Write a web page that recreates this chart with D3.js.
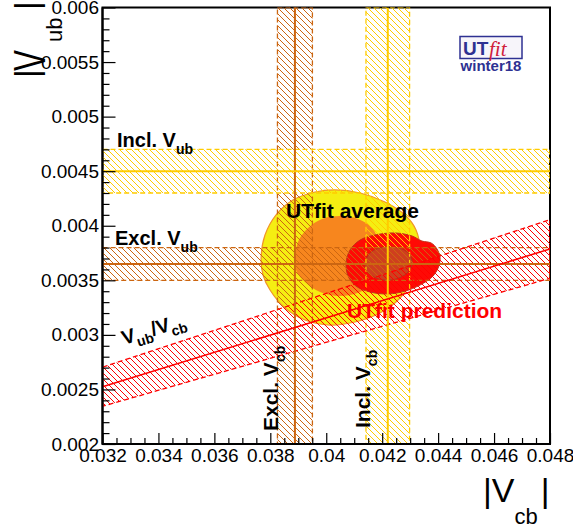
<!DOCTYPE html>
<html><head><meta charset="utf-8">
<script src="https://cdn.jsdelivr.net/npm/d3@7"></script>
<style>
body{margin:0;background:#fff}
svg{display:block}
text{font-family:"Liberation Sans",Arial,Helvetica,sans-serif}
</style>
</head><body>
<svg id="chart" width="573" height="530"></svg>
<script>
// ---------- data ----------
const xTicks = [0.032,0.034,0.036,0.038,0.040,0.042,0.044,0.046,0.048];
const xTickLabels = ["0.032","0.034","0.036","0.038","0.04","0.042","0.044","0.046","0.048"];
const yTicks = [0.002,0.0025,0.003,0.0035,0.004,0.0045,0.005,0.0055,0.006];
const yTickLabels = ["0.002","0.0025","0.003","0.0035","0.004","0.0045","0.005","0.0055","0.006"];

// |Vcb| measurements (vertical bands): Excl., Incl.
const vcbNames = ["Excl.","Incl."];
const vcbCenters = [0.03888, 0.04220];
const vcbErrors = [0.000625, 0.00078];
// |Vub| measurements (horizontal bands): Incl., Excl.
const vubNames = ["Incl.","Excl."];
const vubCenters = [0.00450, 0.00365];
const vubErrors = [0.00020, 0.00015];
// Vub/Vcb ratio
const ratioCenter = 0.0789;
const ratioError = 0.0056;

// UTfit average contours [Vcb, Vub]
const avg95 = [[0.03767,0.003704],[0.03781,0.003915],[0.03820,0.004098],[0.03881,0.004236],[0.03960,0.004309],[0.04031,0.004328],[0.04121,0.004300],[0.04210,0.004218],[0.04282,0.004098],[0.04321,0.003961],[0.04335,0.003778],[0.04317,0.003549],[0.04264,0.003338],[0.04192,0.003200],[0.04103,0.003118],[0.04013,0.003090],[0.03924,0.003136],[0.03853,0.003246],[0.03799,0.003411],[0.03774,0.003549]];
const avg68 = [[0.03888,0.003668],[0.03899,0.003851],[0.03935,0.003979],[0.03985,0.004062],[0.04049,0.004089],[0.04114,0.004062],[0.04164,0.003979],[0.04192,0.003824],[0.04199,0.003640],[0.04174,0.003485],[0.04121,0.003393],[0.04049,0.003356],[0.03978,0.003393],[0.03924,0.003485],[0.03895,0.003576]];
// UTfit prediction contours
const pred95 = [[0.04071,0.003659],[0.04085,0.003778],[0.04121,0.003869],[0.04174,0.003915],[0.04246,0.003934],[0.04307,0.003906],[0.04342,0.003860],[0.04375,0.003842],[0.04396,0.003787],[0.04407,0.003704],[0.04400,0.003613],[0.04378,0.003530],[0.04335,0.003456],[0.04282,0.003401],[0.04221,0.003375],[0.04156,0.003393],[0.04106,0.003448],[0.04078,0.003540]];
const pred68 = [[0.04139,0.003650],[0.04153,0.003741],[0.04185,0.003792],[0.04228,0.003805],[0.04271,0.003787],[0.04299,0.003732],[0.04307,0.003650],[0.04289,0.003567],[0.04249,0.003512],[0.04203,0.003503],[0.04164,0.003540],[0.04142,0.003594]];

// ---------- drawing ----------
const svg = d3.select("#chart");
const L=102.5, R=550, T=7.5, B=444;
const x = d3.scaleLinear().domain([0.032,0.048]).range([L,R]);
const y = d3.scaleLinear().domain([0.002,0.006]).range([B,T]);

const COL_YEL = "#FFCC00", COL_EXC = "#CC6611", COL_RED = "#FF0000";

const defs = svg.append("defs");
defs.append("clipPath").attr("id","plotclip").append("rect")
  .attr("x",L).attr("y",T).attr("width",R-L).attr("height",B-T);
function hatch(id,color){
  const p = defs.append("pattern").attr("id",id).attr("patternUnits","userSpaceOnUse")
    .attr("width",6).attr("height",6);
  p.append("path").attr("d","M-1,-1L7,7M5,-1L7,1M-1,5L1,7")
    .attr("stroke",color).attr("stroke-width",1).attr("fill","none");
}
hatch("hY",COL_YEL); hatch("hE",COL_EXC); hatch("hR",COL_RED);

// frame (under bands)
svg.append("rect").attr("x",L).attr("y",T).attr("width",R-L).attr("height",B-T)
  .attr("fill","none").attr("stroke","#000").attr("stroke-width",2);

const plot = svg.append("g").attr("clip-path","url(#plotclip)");

// contours
const cline = d3.line().x(d=>x(d[0])).y(d=>y(d[1])).curve(d3.curveCatmullRomClosed.alpha(0.5));
plot.append("path").attr("d",cline(avg95)).attr("fill","#F5EE12").attr("stroke","#F0962A").attr("stroke-width",1.2);
plot.append("path").attr("d",cline(avg68)).attr("fill","#F7861E");
plot.append("path").attr("d",cline(pred95)).attr("fill","#FF0A05").attr("stroke","#C0301A").attr("stroke-width",1);
plot.append("path").attr("d",cline(pred68)).attr("fill","#CF3F1E").attr("stroke","#B0381A").attr("stroke-width",1);

// vertical bands (Vcb)
const vColors = [COL_EXC, COL_YEL], vFill = ["url(#hE)","url(#hY)"];
vcbCenters.forEach((c,i)=>{
  const x0=x(c-vcbErrors[i]), x1=x(c+vcbErrors[i]);
  plot.append("rect").attr("x",x0).attr("y",T).attr("width",x1-x0).attr("height",B-T)
    .attr("fill",vFill[i]).attr("stroke",vColors[i]).attr("stroke-width",1.3).attr("stroke-dasharray","5,3");
});
// horizontal bands (Vub)
const hColors = [COL_YEL, COL_EXC], hFill = ["url(#hY)","url(#hE)"];
vubCenters.forEach((c,i)=>{
  const y0=y(c+vubErrors[i]), y1=y(c-vubErrors[i]);
  plot.append("rect").attr("x",L).attr("y",y0).attr("width",R-L).attr("height",y1-y0)
    .attr("fill",hFill[i]).attr("stroke",hColors[i]).attr("stroke-width",1.3).attr("stroke-dasharray","5,3");
});
// ratio band
const xd = x.domain();
const rHi = ratioCenter+ratioError, rLo = ratioCenter-ratioError;
const ratioPoly = [[xd[0],rHi*xd[0]],[xd[1],rHi*xd[1]],[xd[1],rLo*xd[1]],[xd[0],rLo*xd[0]]];
plot.append("path").attr("d","M"+ratioPoly.map(d=>[x(d[0]),y(d[1])].join(",")).join("L")+"Z")
  .attr("fill","url(#hR)").attr("stroke",COL_RED).attr("stroke-width",1.3).attr("stroke-dasharray","5,3");

// center lines
vcbCenters.forEach((c,i)=>{
  plot.append("line").attr("x1",x(c)).attr("x2",x(c)).attr("y1",T).attr("y2",B)
    .attr("stroke",vColors[i]).attr("stroke-width",2);
});
vubCenters.forEach((c,i)=>{
  plot.append("line").attr("x1",L).attr("x2",R).attr("y1",y(c)).attr("y2",y(c))
    .attr("stroke",hColors[i]).attr("stroke-width",2);
});
plot.append("line").attr("x1",x(xd[0])).attr("y1",y(ratioCenter*xd[0]))
  .attr("x2",x(xd[1])).attr("y2",y(ratioCenter*xd[1])).attr("stroke",COL_RED).attr("stroke-width",1.6);

// axes
function minorVals(a,b,step){const v=[];for(let k=Math.round(a/step);k*step<=b+1e-12;k++)v.push(+(k*step).toFixed(6));return v;}
const xMinor = minorVals(0.032,0.048,0.0005).filter(v=>!xTicks.some(t=>Math.abs(t-v)<1e-9));
const yMinor = minorVals(0.002,0.006,0.0001).filter(v=>!yTicks.some(t=>Math.abs(t-v)<1e-9));

const gx = svg.append("g").attr("transform",`translate(0,${B})`)
  .call(d3.axisBottom(x).tickValues(xTicks).tickSize(-11).tickSizeOuter(0).tickPadding(5)
    .tickFormat((d,i)=>xTickLabels[i]));
svg.append("g").attr("transform",`translate(0,${B})`)
  .call(d3.axisBottom(x).tickValues(xMinor).tickSize(-6).tickSizeOuter(0).tickFormat(""))
  .select(".domain").remove();
const gy = svg.append("g").attr("transform",`translate(${L},0)`)
  .call(d3.axisLeft(y).tickValues(yTicks).tickSize(-13).tickSizeOuter(0).tickPadding(3.5)
    .tickFormat((d,i)=>yTickLabels[i]));
svg.append("g").attr("transform",`translate(${L},0)`)
  .call(d3.axisLeft(y).tickValues(yMinor).tickSize(-7).tickSizeOuter(0).tickFormat(""))
  .select(".domain").remove();
gx.select(".domain").remove(); gy.select(".domain").remove();
svg.selectAll(".tick line").attr("stroke","#000").attr("stroke-width",1.2);
svg.selectAll(".tick text").attr("font-size",19).attr("fill","#000")
  .style("font-family",'"Liberation Sans",Arial,Helvetica,sans-serif');
svg.append("line").attr("x1",L).attr("x2",L).attr("y1",T).attr("y2",B).attr("stroke","#000").attr("stroke-width",2);
svg.append("line").attr("x1",L).attr("x2",R).attr("y1",B).attr("y2",B).attr("stroke","#000").attr("stroke-width",2);

// axis titles
const xt = svg.append("text").attr("x",483).attr("y",502).attr("font-size",34).attr("fill","#000");
xt.append("tspan").text("|V");
xt.append("tspan").attr("font-size",22).attr("dy",22).text("cb");
xt.append("tspan").attr("dy",-22).attr("dx",3).text("|");

const yt = svg.append("g").attr("transform","translate(45,78) rotate(-90)");
yt.append("text").attr("x",0).attr("y",-7).attr("font-size",34).text("|");
yt.append("text").attr("x",7).attr("y",0).attr("font-size",44)
  .attr("textLength",21).attr("lengthAdjust","spacingAndGlyphs").text("V");
yt.append("text").attr("x",36).attr("y",17).attr("font-size",22).text("ub");
yt.append("text").attr("x",68).attr("y",-7).attr("font-size",34).text("|");

// labels
function subLabel(g, main, sub, fs, sfs, dy, color){
  const t = g.append("text").attr("font-size",fs).attr("font-weight","bold").attr("fill",color||"#000");
  t.append("tspan").text(main);
  t.append("tspan").attr("font-size",sfs).attr("dy",dy).text(sub);
  return t;
}
subLabel(svg,"Incl. V","ub",20,14,7).attr("x",117).attr("y",147);
subLabel(svg,"Excl. V","ub",20,14,7).attr("x",115).attr("y",245);
svg.append("text").attr("x",286).attr("y",218).attr("font-size",21).attr("font-weight","bold").text("UTfit average");
svg.append("text").attr("x",347).attr("y",318).attr("font-size",21).attr("font-weight","bold").attr("fill",COL_RED).text("UTfit prediction");

const rl = svg.append("text").attr("transform","translate(124,345) rotate(-17)")
  .attr("font-size",20).attr("font-weight","bold");
rl.append("tspan").text("V");
rl.append("tspan").attr("font-size",14).attr("dy",6).text("ub");
rl.append("tspan").attr("dy",-6).text("/V");
rl.append("tspan").attr("font-size",14).attr("dy",6).text("cb");

subLabel(svg,"Excl. V","cb",21,14,7).attr("transform","translate(278,431) rotate(-90)");
subLabel(svg,"Incl. V","cb",21,14,7).attr("transform","translate(370,428) rotate(-90)");

// logo
const logo = svg.append("g");
logo.append("rect").attr("x",460).attr("y",36.5).attr("width",62).attr("height",22)
  .attr("fill","#F7F5FA").attr("stroke","#2E3192").attr("stroke-width",1.5);
logo.append("text").attr("x",463).attr("y",54.5).attr("font-size",19).attr("font-weight","bold")
  .attr("fill","#2E3192").text("UT");
logo.append("text").attr("x",489).attr("y",56).attr("font-size",21).attr("font-style","italic")
  .attr("fill","#D0203A").style("font-family",'"Liberation Serif","DejaVu Serif",serif').text("fit");
logo.append("text").attr("x",491).attr("y",71).attr("font-size",15).attr("font-weight","bold")
  .attr("text-anchor","middle").attr("fill","#2E3192").text("winter18");
</script>
</body></html>
